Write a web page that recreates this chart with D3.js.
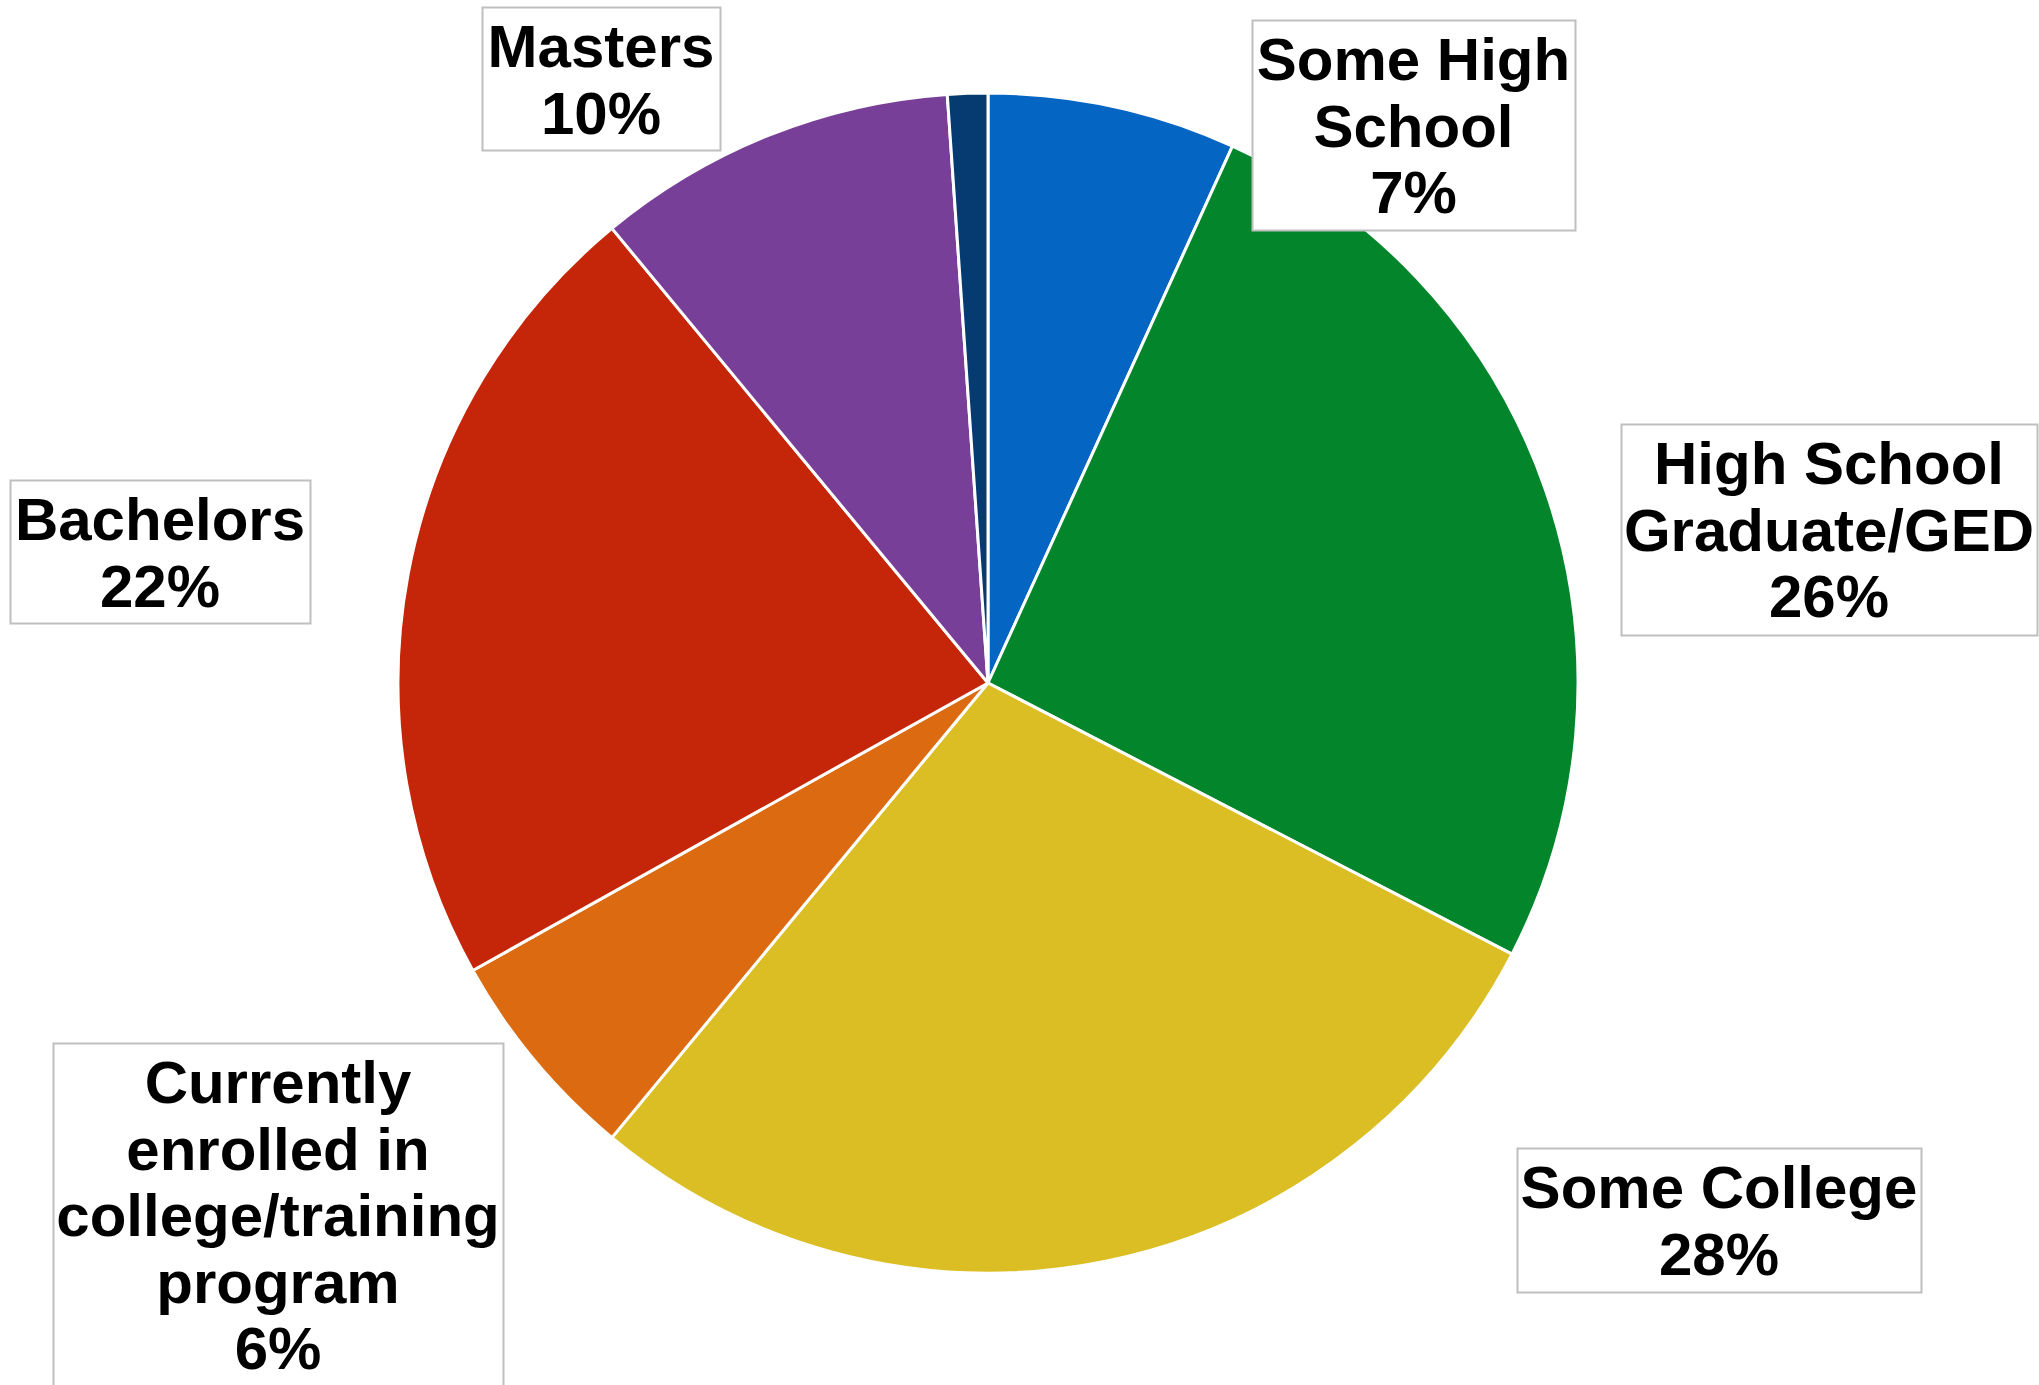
<!DOCTYPE html>
<html>
<head>
<meta charset="utf-8">
<script src="https://cdn.jsdelivr.net/npm/d3@7"></script>
<style>
  body { margin: 0; background: #fff; }
  svg { display: block; }
</style>
</head>
<body>
<svg id="chart"></svg>
<script>
// education levels, clockwise from 12 o'clock
var categories = ["Some High\nSchool", "High School\nGraduate/GED", "Some College",
  "Currently\nenrolled in\ncollege/training\nprogram", "Bachelors", "Masters", "Doctorate"];
var values = [6.8, 25.8, 28.4, 5.9, 22.1, 9.9, 1.1];
var colors = ["#0565c2", "#03862b", "#dbbd24", "#dc6a10", "#c52508", "#783f99", "#053b70"];
var showLabel = [true, true, true, true, true, true, false];

// label boxes (layout only): x, y, w, h
var boxes = [
  [1252, 20, 323, 210],
  [1621, 424, 416, 211],
  [1517, 1148, 404, 144],
  [53, 1043, 450, 400],
  [10, 480, 300, 143],
  [482, 7, 238, 143],
  null
];

var width = 2039, height = 1385;
var cx = 988, cy = 683, radius = 590;
var fontSize = 60, lineH = 66.5;

var svg = d3.select("#chart").attr("width", width).attr("height", height);

var total = d3.sum(values);
var pie = d3.pie().sort(null).value(function (d) { return d; });
var arc = d3.arc().innerRadius(0).outerRadius(radius);

var g = svg.append("g").attr("transform", "translate(" + cx + "," + cy + ")");
g.selectAll("path")
  .data(pie(values))
  .enter().append("path")
  .attr("d", arc)
  .attr("fill", function (d, i) { return colors[i]; })
  .attr("stroke", "#fff")
  .attr("stroke-width", 3)
  .attr("stroke-linejoin", "round");

var labels = svg.append("g");
categories.forEach(function (cat, i) {
  if (!showLabel[i]) return;
  var b = boxes[i];
  labels.append("rect")
    .attr("x", b[0] + 0.5).attr("y", b[1] + 0.5)
    .attr("width", b[2]).attr("height", b[3])
    .attr("fill", "#fff")
    .attr("stroke", "#bfbfbf")
    .attr("stroke-width", 2);
  var lines = cat.split("\n");
  lines.push(Math.round(values[i] / total * 100) + "%");
  var t = labels.append("text")
    .attr("font-family", "'Liberation Sans', Arial, sans-serif")
    .attr("font-weight", "bold")
    .attr("font-size", fontSize)
    .attr("text-anchor", "middle")
    .attr("fill", "#000");
  lines.forEach(function (ln, k) {
    t.append("tspan")
      .attr("x", b[0] + b[2] / 2)
      .attr("y", b[1] + 60 + k * lineH)
      .text(ln);
  });
});
</script>
</body>
</html>
